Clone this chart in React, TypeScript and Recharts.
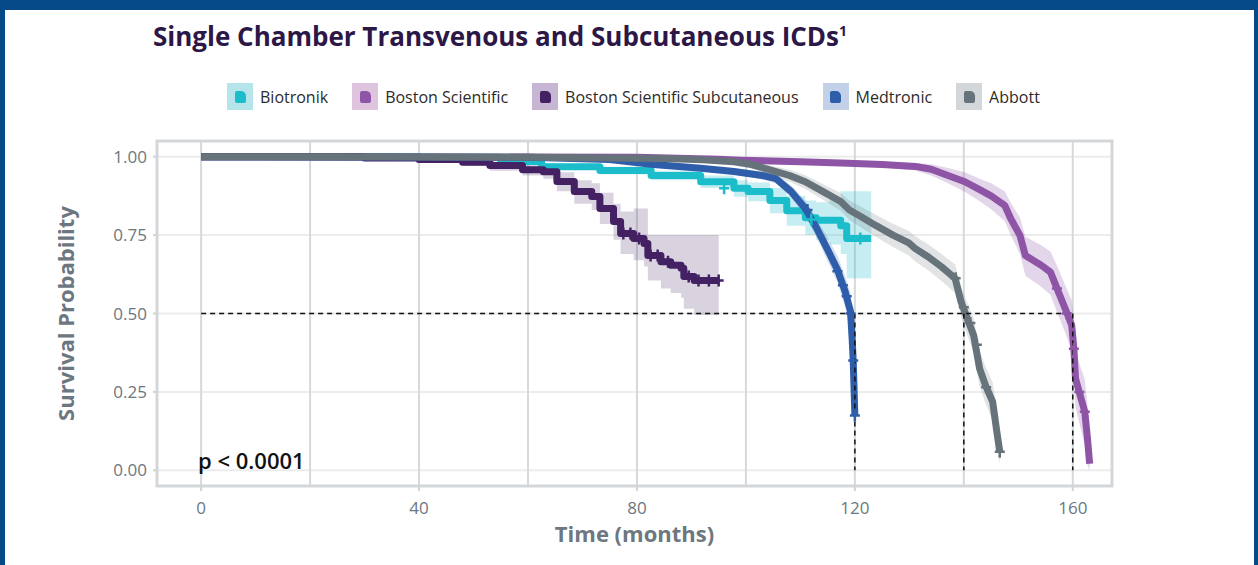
import React from 'react';
import {
  ComposedChart,
  Line,
  Area,
  Scatter,
  XAxis,
  YAxis,
  CartesianGrid,
  ReferenceLine,
  ReferenceArea,
} from 'recharts';

// axis values
const xTicks = [0, 40, 80, 120, 160];
const xGrid = [0, 20, 40, 60, 80, 100, 120, 140, 160];
const yTicks = [0, 0.25, 0.5, 0.75, 1];
const xDomain = [-8.1, 167.2];
const yDomain = [-0.05, 1.05];
const medianCut = 0.5;
const medians = [120, 140, 160];

// Biotronik
const bioT = [0, 40, 55, 62.5, 73.2, 82.6, 91.7, 97.8, 100.4, 104.4, 107.5, 110.9, 112.9, 115.4, 117.4, 118.5, 123];
const bioS = [1, 0.998, 0.985, 0.968, 0.956, 0.94, 0.92, 0.899, 0.889, 0.86, 0.828, 0.805, 0.797, 0.797, 0.78, 0.739, 0.739];
const bioLo = [1, 0.996, 0.978, 0.958, 0.944, 0.925, 0.9, 0.872, 0.858, 0.82, 0.78, 0.75, 0.735, 0.72, 0.69, 0.612, 0.612];
const bioHi = [1, 1, 0.992, 0.978, 0.968, 0.955, 0.94, 0.925, 0.918, 0.9, 0.875, 0.86, 0.855, 0.87, 0.89, 0.89, 0.89];
const bioCens: number[][] = [[96, 0.899], [112, 0.8], [121, 0.739]];

// Boston Scientific
const bsT = [0, 80, 95, 99, 110, 118.8, 125, 131.1, 134, 137.1, 140.2, 142.9, 145, 147.5, 148.6, 150.3, 151.3, 154.2, 155.9, 157.1, 158.8, 159.8, 160.2, 160.5, 161.5, 162.2, 162.7, 163.1];
const bsS = [1, 0.998, 0.992, 0.989, 0.984, 0.979, 0.975, 0.969, 0.96, 0.94, 0.92, 0.895, 0.875, 0.845, 0.803, 0.749, 0.685, 0.654, 0.632, 0.58, 0.507, 0.463, 0.388, 0.293, 0.23, 0.187, 0.101, 0.021];
const bsLo = [1, 0.997, 0.988, 0.984, 0.978, 0.972, 0.966, 0.956, 0.94, 0.915, 0.888, 0.858, 0.832, 0.795, 0.75, 0.69, 0.62, 0.585, 0.56, 0.505, 0.43, 0.38, 0.3, 0.2, 0.13, 0.08, 0.015, 0];
const bsHi = [1, 0.999, 0.996, 0.994, 0.99, 0.986, 0.984, 0.98, 0.976, 0.964, 0.95, 0.93, 0.915, 0.89, 0.853, 0.806, 0.745, 0.718, 0.698, 0.652, 0.582, 0.542, 0.472, 0.38, 0.325, 0.29, 0.205, 0.125];
const bsCens: number[][] = [[157.1, 0.58], [158.9, 0.5], [160.2, 0.388], [161.2, 0.25], [162.2, 0.187]];

// Boston Scientific Subcutaneous
const bssT = [0, 30, 40, 48, 53, 59, 62.8, 65.3, 68.5, 71.7, 73.2, 75.7, 77, 79.4, 81.3, 82, 84.4, 86.2, 88.1, 88.6, 90.5, 95];
const bssS = [1, 0.996, 0.991, 0.982, 0.972, 0.958, 0.952, 0.921, 0.889, 0.873, 0.835, 0.793, 0.755, 0.739, 0.723, 0.685, 0.665, 0.654, 0.644, 0.618, 0.605, 0.605];
const bssLo = [1, 0.99, 0.983, 0.97, 0.955, 0.94, 0.93, 0.89, 0.85, 0.83, 0.785, 0.735, 0.69, 0.67, 0.65, 0.605, 0.58, 0.565, 0.55, 0.515, 0.495, 0.495];
const bssHi = [1, 0.999, 0.996, 0.99, 0.984, 0.975, 0.972, 0.95, 0.925, 0.915, 0.885, 0.85, 0.825, 0.835, 0.835, 0.75, 0.75, 0.75, 0.75, 0.75, 0.75, 0.75];
const bssCens: number[][] = [[77.5, 0.755], [78.8, 0.755], [80.4, 0.739], [82.5, 0.685], [83.8, 0.685], [85.7, 0.665], [89.5, 0.618], [91.3, 0.605], [93.2, 0.605], [95, 0.605]];

// Medtronic
const medT = [0, 60, 75, 83, 91.7, 97.8, 103, 105.5, 108.3, 110.9, 112.9, 114.9, 116.8, 118.2, 119.2, 119.5, 119.7, 120];
const medS = [1, 0.998, 0.991, 0.975, 0.963, 0.953, 0.94, 0.93, 0.889, 0.835, 0.775, 0.707, 0.64, 0.571, 0.507, 0.42, 0.348, 0.175];
const medLo = [1, 0.996, 0.986, 0.968, 0.954, 0.943, 0.928, 0.915, 0.87, 0.81, 0.745, 0.67, 0.6, 0.52, 0.45, 0.36, 0.29, 0.12];
const medHi = [1, 0.999, 0.995, 0.982, 0.971, 0.963, 0.952, 0.944, 0.908, 0.86, 0.805, 0.745, 0.685, 0.62, 0.565, 0.48, 0.41, 0.24];
const medCens: number[][] = [[111.3, 0.83], [116.8, 0.635], [117.8, 0.59], [118.5, 0.555], [119.2, 0.5], [119.7, 0.35], [120, 0.175]];

// Abbott
const abtT = [0, 20, 40, 60, 75, 85, 92, 97.8, 101, 104.4, 108, 110.9, 114, 117.4, 119, 121, 123.9, 127, 129.9, 131.1, 133.5, 135.9, 138.4, 139.5, 140.4, 141.8, 142.9, 144, 145.3, 146, 146.6];
const abtS = [1, 1, 0.999, 0.998, 0.996, 0.994, 0.99, 0.984, 0.975, 0.958, 0.94, 0.92, 0.89, 0.857, 0.83, 0.81, 0.78, 0.75, 0.725, 0.707, 0.68, 0.649, 0.612, 0.537, 0.495, 0.431, 0.324, 0.27, 0.218, 0.13, 0.059];
const abtLo = [1, 1, 0.998, 0.996, 0.993, 0.99, 0.985, 0.976, 0.963, 0.942, 0.92, 0.897, 0.864, 0.828, 0.798, 0.776, 0.744, 0.712, 0.685, 0.666, 0.637, 0.604, 0.565, 0.488, 0.443, 0.376, 0.268, 0.212, 0.158, 0.07, 0.02];
const abtHi = [1, 1, 1, 0.999, 0.998, 0.997, 0.994, 0.99, 0.985, 0.972, 0.958, 0.941, 0.914, 0.884, 0.86, 0.842, 0.814, 0.786, 0.763, 0.746, 0.72, 0.69, 0.656, 0.585, 0.545, 0.485, 0.38, 0.33, 0.28, 0.2, 0.12];
const abtCens: number[][] = [[138.5, 0.612], [140, 0.52], [141.2, 0.47], [142.4, 0.4], [144.1, 0.265], [146.6, 0.059]];

const build = (t: number[], s: number[], lo: number[], hi: number[]) =>
  t.map((m, i) => ({ t: m, s: s[i], band: [lo[i], hi[i]] }));
const points = (c: number[][]) => c.map(([t, s]) => ({ t, s }));

const series = [
  { name: 'Biotronik', color: '#1cbdca', light: '#b5e4ea', curve: 'stepAfter', data: build(bioT, bioS, bioLo, bioHi), cens: points(bioCens), op: 0.25 },
  { name: 'Boston Scientific', color: '#8e55a6', light: '#dfc4e0', curve: 'linear', data: build(bsT, bsS, bsLo, bsHi), cens: points(bsCens), op: 0.24 },
  { name: 'Boston Scientific Subcutaneous', color: '#432163', light: '#c7b5d4', curve: 'stepAfter', data: build(bssT, bssS, bssLo, bssHi), cens: points(bssCens), op: 0.2 },
  { name: 'Medtronic', color: '#2e5daa', light: '#c2d0e8', curve: 'linear', data: build(medT, medS, medLo, medHi), cens: points(medCens), op: 0.2 },
  { name: 'Abbott', color: '#67737a', light: '#d3d7d9', curve: 'linear', data: build(abtT, abtS, abtLo, abtHi), cens: points(abtCens), op: 0.2 },
];

const FONT = "'Open Sans', sans-serif";
const AXIS_GREY = '#6c777f';

const crossShape = (color: string) => (props: any) => {
  const { cx, cy } = props;
  if (cx == null || cy == null) return null;
  return <path d={`M${cx - 5},${cy}h10M${cx},${cy - 6}v12`} stroke={color} strokeWidth={2.5} fill="none" />;
};

const LegendBox = () => (
  <div style={{ position: 'absolute', left: 227, top: 83, display: 'flex', alignItems: 'center', fontFamily: FONT, fontSize: 16, color: '#2b2b2b' }}>
    {series.map((s) => (
      <div key={s.name} style={{ display: 'flex', alignItems: 'center', marginRight: 24 }}>
        <div style={{ width: 26, height: 27, background: s.light, display: 'flex', alignItems: 'center', justifyContent: 'center' }}>
          <div style={{ width: 11, height: 12, background: s.color, borderRadius: '2px 5px 2px 2px' }} />
        </div>
        <span style={{ marginLeft: 7 }}>{s.name}</span>
      </div>
    ))}
  </div>
);

export default function App() {
  return (
    <div style={{ position: 'absolute', left: 0, top: 0, width: 1258, height: 565, background: '#054a86', overflow: 'hidden' }}>
      <div style={{ position: 'absolute', left: 5, top: 10, width: 1249, height: 555, background: '#ffffff' }} />
      <div style={{ position: 'absolute', left: 153, top: 23, fontFamily: FONT, fontWeight: 700, fontSize: 26, lineHeight: 1, color: '#2c1746', whiteSpace: 'nowrap' }}>
        Single Chamber Transvenous and Subcutaneous ICDs<sup style={{ fontSize: 14 }}>1</sup>
      </div>
      <LegendBox />
      <div style={{ position: 'absolute', left: 0, top: 0 }}>
        <ComposedChart width={1258} height={565} margin={{ top: 141, right: 146, bottom: 17, left: 57 }}>
          <CartesianGrid vertical={false} stroke="#ececec" strokeWidth={2} />
          <CartesianGrid
            horizontal={false}
            stroke="#d5d9db"
            strokeWidth={2}
            verticalCoordinatesGenerator={({ xAxis, offset }: any) =>
              xGrid.map((v) =>
                xAxis && typeof xAxis.scale === 'function'
                  ? xAxis.scale(v)
                  : offset.left + ((v - xDomain[0]) / (xDomain[1] - xDomain[0])) * offset.width
              )
            }
          />
          <XAxis
            dataKey="t"
            type="number"
            domain={xDomain}
            ticks={xTicks}
            allowDataOverflow
            height={62}
            axisLine={false}
            tickSize={5}
            tickMargin={11}
            tickLine={{ stroke: '#d0d4d6', strokeWidth: 2 }}
            tick={{ fill: AXIS_GREY, fontSize: 17, fontFamily: FONT }}
            label={{ value: 'Time (months)', position: 'insideBottom', offset: 6, style: { fill: AXIS_GREY, fontSize: 22, fontWeight: 700, fontFamily: FONT } }}
          />
          <YAxis
            dataKey="s"
            type="number"
            domain={yDomain}
            ticks={yTicks}
            allowDataOverflow
            width={100}
            axisLine={false}
            tickSize={4}
            tickMargin={6}
            tickLine={{ stroke: '#d0d4d6', strokeWidth: 2 }}
            tickFormatter={(v: number) => v.toFixed(2)}
            tick={{ fill: AXIS_GREY, fontSize: 17, fontFamily: FONT }}
            label={{ value: 'Survival Probability', angle: -90, position: 'insideLeft', offset: 9, style: { textAnchor: 'middle', fill: AXIS_GREY, fontSize: 22, fontWeight: 700, fontFamily: FONT } }}
          />
          {series.map((s) => (
            <Area
              key={`band-${s.name}`}
              data={s.data}
              dataKey="band"
              type={s.curve as any}
              fill={s.color}
              fillOpacity={s.op}
              stroke="none"
              isAnimationActive={false}
            />
          ))}
          {series.map((s) => (
            <Line
              key={`line-${s.name}`}
              data={s.data}
              dataKey="s"
              type={s.curve as any}
              stroke={s.color}
              strokeWidth={7}
              strokeLinejoin="round"
              dot={false}
              isAnimationActive={false}
            />
          ))}
          {series.map((s) => (
            <Scatter
              key={`cens-${s.name}`}
              data={s.cens}
              dataKey="s"
              shape={crossShape(s.color)}
              isAnimationActive={false}
            />
          ))}
          <ReferenceLine
            segment={[{ x: 0, y: medianCut }, { x: medians[medians.length - 1], y: medianCut }]}
            stroke="#111"
            strokeWidth={1.5}
            strokeDasharray="5 4"
          />
          {medians.map((m) => (
            <ReferenceLine
              key={`med-${m}`}
              segment={[{ x: m, y: medianCut }, { x: m, y: 0 }]}
              stroke="#111"
              strokeWidth={1.5}
              strokeDasharray="5 4"
            />
          ))}
          <ReferenceArea x1={xDomain[0]} x2={xDomain[1]} y1={yDomain[0]} y2={yDomain[1]} fill="none" stroke="#d3d7d9" strokeWidth={3} />
        </ComposedChart>
      </div>
      <div style={{ position: 'absolute', left: 198, top: 449, fontFamily: FONT, fontWeight: 600, fontSize: 22, lineHeight: 1, color: '#111' }}>
        p &lt; 0.0001
      </div>
    </div>
  );
}
